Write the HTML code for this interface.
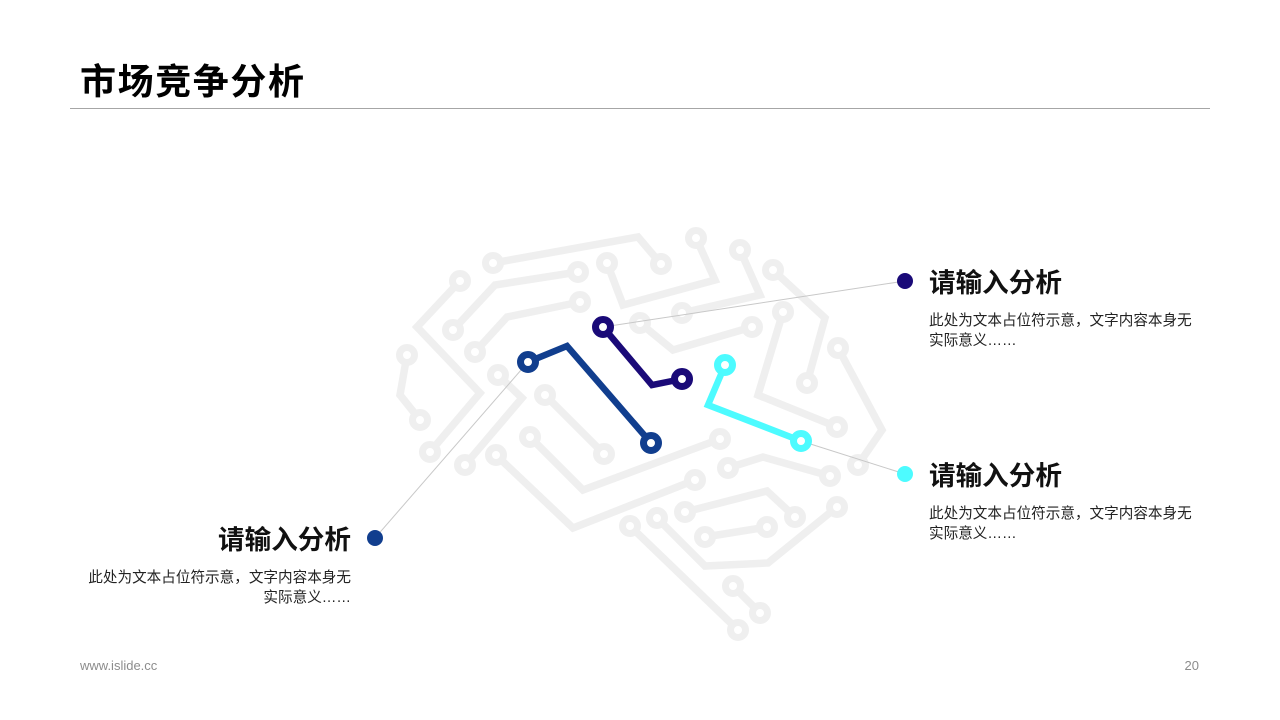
<!DOCTYPE html>
<html><head><meta charset="utf-8">
<style>
html,body{margin:0;padding:0;background:#fff;}
body{width:1280px;height:720px;position:relative;overflow:hidden;font-family:"Liberation Sans","Noto Sans CJK SC",sans-serif;}
.title{position:absolute;left:80px;top:60px;font-size:36px;font-weight:bold;color:#000;line-height:44px;letter-spacing:1.6px;}
.rule{position:absolute;left:70px;top:108px;width:1140px;height:1px;background:#a6a6a6;}
.h{position:absolute;font-size:26.6px;font-weight:bold;color:#111;line-height:32px;white-space:nowrap;}
.p{position:absolute;font-size:14.6px;color:#222;line-height:20px;width:275px;}
.foot{position:absolute;font-size:13px;color:#8c8c8c;line-height:14px;}
svg{position:absolute;left:0;top:0;}
</style></head><body>
<div class="title">市场竞争分析</div>
<div class="rule"></div>

<svg width="1280" height="720" viewBox="0 0 1280 720">
 <g fill="none" stroke="#efefef" stroke-width="7.5" stroke-linejoin="miter" stroke-linecap="butt">
  <polyline points="493,263 638,237 661,264"/>
  <polyline points="460,281 417,327 480,393 430,452"/>
  <polyline points="453,330 495,285 578,272"/>
  <polyline points="475,352 507,317 580,302"/>
  <polyline points="407,355 400,395 420,420"/>
  <polyline points="498,375 522,398 465,465"/>
  <polyline points="545,395 604,454"/>
  <polyline points="530,437 583,490 720,439"/>
  <polyline points="496,455 573,528 695,480"/>
  <polyline points="630,526 738,630"/>
  <polyline points="657,518 705,566 768,563 837,507"/>
  <polyline points="685,512 767,491 795,517"/>
  <polyline points="705,537 767,527"/>
  <polyline points="733,586 760,613"/>
  <polyline points="728,468 763,457 830,476"/>
  <polyline points="783,312 758,395 837,427"/>
  <polyline points="640,323 673,350 752,327"/>
  <polyline points="682,313 760,295 740,250"/>
  <polyline points="696,238 715,280 623,305 607,263"/>
  <polyline points="773,270 825,318 807,383"/>
  <polyline points="838,348 882,430 858,465"/>
 </g>
 <g fill="#fff" stroke="#efefef" stroke-width="7">
  <circle cx="493" cy="263" r="7.5"/><circle cx="661" cy="264" r="7.5"/>
  <circle cx="460" cy="281" r="7.5"/><circle cx="430" cy="452" r="7.5"/>
  <circle cx="453" cy="330" r="7.5"/><circle cx="578" cy="272" r="7.5"/>
  <circle cx="475" cy="352" r="7.5"/><circle cx="580" cy="302" r="7.5"/>
  <circle cx="407" cy="355" r="7.5"/><circle cx="420" cy="420" r="7.5"/>
  <circle cx="498" cy="375" r="7.5"/><circle cx="465" cy="465" r="7.5"/>
  <circle cx="545" cy="395" r="7.5"/><circle cx="604" cy="454" r="7.5"/>
  <circle cx="530" cy="437" r="7.5"/><circle cx="720" cy="439" r="7.5"/>
  <circle cx="496" cy="455" r="7.5"/><circle cx="695" cy="480" r="7.5"/>
  <circle cx="630" cy="526" r="7.5"/><circle cx="738" cy="630" r="7.5"/>
  <circle cx="657" cy="518" r="7.5"/><circle cx="837" cy="507" r="7.5"/>
  <circle cx="685" cy="512" r="7.5"/><circle cx="795" cy="517" r="7.5"/>
  <circle cx="705" cy="537" r="7.5"/><circle cx="767" cy="527" r="7.5"/>
  <circle cx="733" cy="586" r="7.5"/><circle cx="760" cy="613" r="7.5"/>
  <circle cx="728" cy="468" r="7.5"/><circle cx="830" cy="476" r="7.5"/>
  <circle cx="783" cy="312" r="7.5"/><circle cx="837" cy="427" r="7.5"/>
  <circle cx="640" cy="323" r="7.5"/><circle cx="752" cy="327" r="7.5"/>
  <circle cx="682" cy="313" r="7.5"/><circle cx="740" cy="250" r="7.5"/>
  <circle cx="696" cy="238" r="7.5"/><circle cx="607" cy="263" r="7.5"/>
  <circle cx="773" cy="270" r="7.5"/><circle cx="807" cy="383" r="7.5"/>
  <circle cx="838" cy="348" r="7.5"/><circle cx="858" cy="465" r="7.5"/>
 </g>
 <g stroke="#c8c8c8" stroke-width="1" fill="none">
  <line x1="375" y1="538" x2="528" y2="362"/>
  <line x1="905" y1="281" x2="603" y2="327"/>
  <line x1="801" y1="441" x2="905" y2="474"/>
 </g>
 <g fill="none" stroke-width="6.5" stroke-linejoin="miter">
  <polyline points="528,362 567,346 651,443" stroke="#113e8e"/>
  <polyline points="603,327 652,385 682,379" stroke="#1a0a78"/>
  <polyline points="725,365 708,405 801,441" stroke="#4dfbff"/>
 </g>
 <g fill="#fff" stroke-width="7">
  <circle cx="528" cy="362" r="7.5" stroke="#113e8e"/>
  <circle cx="651" cy="443" r="7.5" stroke="#113e8e"/>
  <circle cx="603" cy="327" r="7.5" stroke="#1a0a78"/>
  <circle cx="682" cy="379" r="7.5" stroke="#1a0a78"/>
  <circle cx="725" cy="365" r="7.5" stroke="#4dfbff"/>
  <circle cx="801" cy="441" r="7.5" stroke="#4dfbff"/>
 </g>
 <circle cx="905" cy="281" r="8" fill="#1a0a78"/>
 <circle cx="905" cy="474" r="8" fill="#4dfbff"/>
 <circle cx="375" cy="538" r="8" fill="#113e8e"/>
</svg>

<div class="h" style="left:929px;top:267px;">请输入分析</div>
<div class="p" style="left:929px;top:311px;">此处为文本占位符示意，文字内容本身无实际意义……</div>

<div class="h" style="left:929px;top:460px;">请输入分析</div>
<div class="p" style="left:929px;top:504px;">此处为文本占位符示意，文字内容本身无实际意义……</div>

<div class="h" style="left:151px;width:200px;text-align:right;top:524px;">请输入分析</div>
<div class="p" style="left:76px;text-align:right;top:568px;">此处为文本占位符示意，文字内容本身无实际意义……</div>

<div class="foot" style="left:80px;top:659px;">www.islide.cc</div>
<div class="foot" style="left:1150px;width:49px;text-align:right;top:659px;">20</div>
</body></html>
